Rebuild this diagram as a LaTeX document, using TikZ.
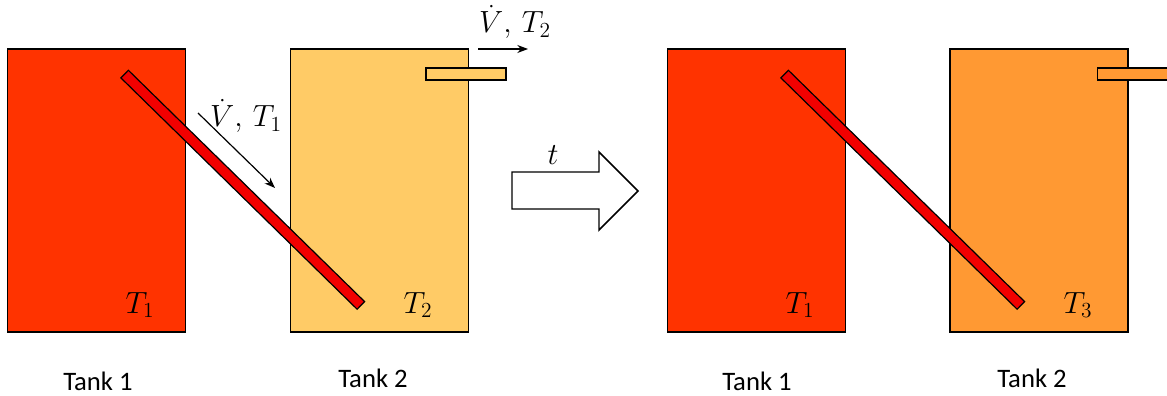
\documentclass[tikz,border=0pt]{standalone}
\usepackage{fix-cm}
\usepackage{fontspec}
\setsansfont{Carlito}
\usepackage{tikz}
\usetikzlibrary{arrows.meta}
\definecolor{hotRed}{HTML}{FF3300}
\definecolor{coolOrange}{HTML}{FFCB66}
\definecolor{mixOrange}{HTML}{FF9933}
\definecolor{pipeRed}{HTML}{F20000}

\begin{document}
\begin{tikzpicture}[x=0.75pt, y=-0.75pt,
        tank/.style={draw, line width=1.1pt, minimum width=133.5pt,
                     minimum height=212pt, inner sep=0pt},
        inpipe/.style={draw, line width=0.9pt, fill=pipeRed, rotate=-44.4,
                       minimum width=248pt, minimum height=8pt, inner sep=0pt},
        outpipe/.style={draw, line width=0.9pt, minimum width=60pt,
                        minimum height=9pt, inner sep=0pt},
        lbl/.style={font=\sffamily\fontsize{20}{24}\selectfont},
        temp/.style={font=\fontsize{23}{27}\selectfont},
        flow/.style={-{Stealth[length=8pt,width=6pt]}, line width=0.9pt},
    ]
    \useasboundingbox (0,0) rectangle (1167,396);

    % before
    \node[tank, fill=hotRed] (a1) at (96.5,190.5) {};
    \node[tank, fill=coolOrange] (a2) at (379.5,190.5) {};
    \node[outpipe, fill=coolOrange] (o1) at (466,74) {};
    \node[inpipe] (p1) at (242.75,189.75) {};
    \node[temp] (ta1) at (140,305) {$T_1$};
    \node[temp] (ta2) at (418,305) {$T_2$};
    \node[lbl] (la1) at (98,381) {Tank 1};
    \node[lbl] (la2) at (373,378) {Tank 2};

    \coordinate (f1s) at (198,113);
    \coordinate (f1e) at (275,188);
    \draw[flow] (f1s) -- (f1e);
    \node[temp] (v1) at (246,116) {$\dot V,\, T_1$};
    \coordinate (f2s) at (478,49);
    \coordinate (f2e) at (528,49);
    \draw[flow] (f2s) -- (f2e);
    \node[temp] (v2) at (515,22) {$\dot V,\, T_2$};

    % time step
    \draw[line width=1.1pt, fill=white]
        (512,172) -- (599,172) -- (599,152) -- (638,191)
        -- (599,230) -- (599,209) -- (512,209) -- cycle;
    \node[temp] (t) at (553,155) {$t$};

    % after
    \node[tank, fill=hotRed] (b1) at (756.5,190.5) {};
    \node[tank, fill=mixOrange] (b2) at (1039,190.5) {};
    \node[outpipe, fill=mixOrange, anchor=west] (o2) at (1097,74) {};
    \node[inpipe] (p2) at (902.75,189.75) {};
    \node[temp] (tb1) at (800,305) {$T_1$};
    \node[temp] (tb3) at (1078,305) {$T_3$};
    \node[lbl] (lb1) at (757,381) {Tank 1};
    \node[lbl] (lb2) at (1032,378) {Tank 2};
\end{tikzpicture}
\end{document}
